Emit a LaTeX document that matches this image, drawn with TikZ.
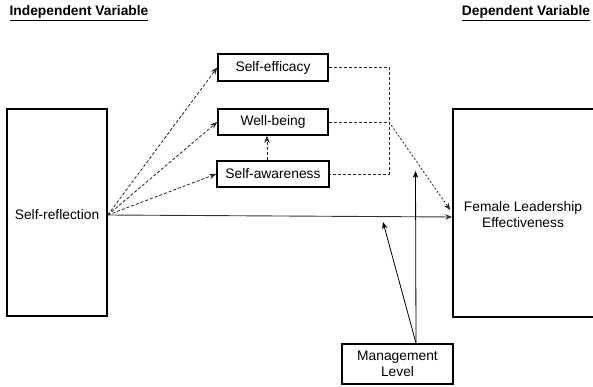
\documentclass[tikz,border=0pt]{standalone}
\usepackage{fontspec}
\setmainfont{Liberation Sans}
\usetikzlibrary{arrows.meta,calc}
\begin{document}
\begin{tikzpicture}[x=1pt,y=1pt,
  font=\fontsize{13.8}{16}\selectfont,
  box/.style={draw=black,line width=1.6pt,rectangle,inner sep=0pt,align=center},
  tip/.style={-{Stealth[length=7pt,width=5.5pt]}},
  dsh/.style={draw=black!85,line width=0.8pt,dash pattern=on 3pt off 2pt},
  dts/.style={draw=black!85,line width=0.8pt,dash pattern=on 2pt off 2pt},
  sld/.style={draw=black!80,line width=0.9pt},
  ttl/.style={font=\fontsize{13.8}{16}\selectfont\bfseries,inner sep=0pt}]
\clip (0,0) rectangle (593,387);
\fill[white] (0,0) rectangle (593,387);
% titles
\node[ttl] (tiv) at (79,374) {\underline{Independent Variable}};
\node[ttl] (tdv) at (526,374) {\underline{Dependent Variable}};
% boxes
\node[box,minimum width=100pt,minimum height=207pt] (sr) at (57,174.5) {};
\node (srt) at (57,172) {Self-reflection};
\node[box,minimum width=110pt,minimum height=27pt] (se) at (273,319.5) {Self-efficacy};
\node[box,minimum width=110pt,minimum height=26pt] (wb) at (273,265) {Well-being};
\node[box,minimum width=112pt,minimum height=26pt] (sa) at (273,213) {Self-awareness};
\node[box,minimum width=150pt,minimum height=208pt] (fle) at (528,174) {};
\node[align=center] (flet) at (523,172) {Female Leadership\\Effectiveness};
\node[box,minimum width=111pt,minimum height=40pt] (ml) at (397.5,23) {Management\\Level};
% coordinates
\coordinate (src) at ($(sr.east)+(0,-2.5)$);
\coordinate (jn) at (389,265);
\coordinate (tipA) at ($(fle.west)+(0,-4)$);
\coordinate (tipB) at ($(fle.west)+(-2,3)$);
\coordinate (ms) at ($(ml.north)+(18.5,0)$);
\coordinate (mv) at (415.5,216);
\coordinate (md) at (383,165);
% dashed arrows from self-reflection
\draw[dsh,tip] (src) -- (se.west);
\draw[dsh,tip] (src) -- (wb.west);
\draw[dsh,tip] (src) -- (sa.west);
\draw[dsh,tip] ($(sa.north)+(-6,0)$) -- ($(wb.south)+(-6,0)$);
% mediator lines
\draw[dsh] (se.east) -- (se.east -| jn) -- (sa.east -| jn) -- (sa.east);
\draw[dsh] (wb.east) -- (jn);
\draw[dts,tip] (jn) -- (tipB);
% main effect
\draw[sld,tip] (src) -- (tipA);
% moderator
\draw[draw=black,line width=0.8pt,tip] (ms) -- (mv);
\draw[draw=black,line width=0.8pt,tip] (ms) -- (md);
\end{tikzpicture}
\end{document}
